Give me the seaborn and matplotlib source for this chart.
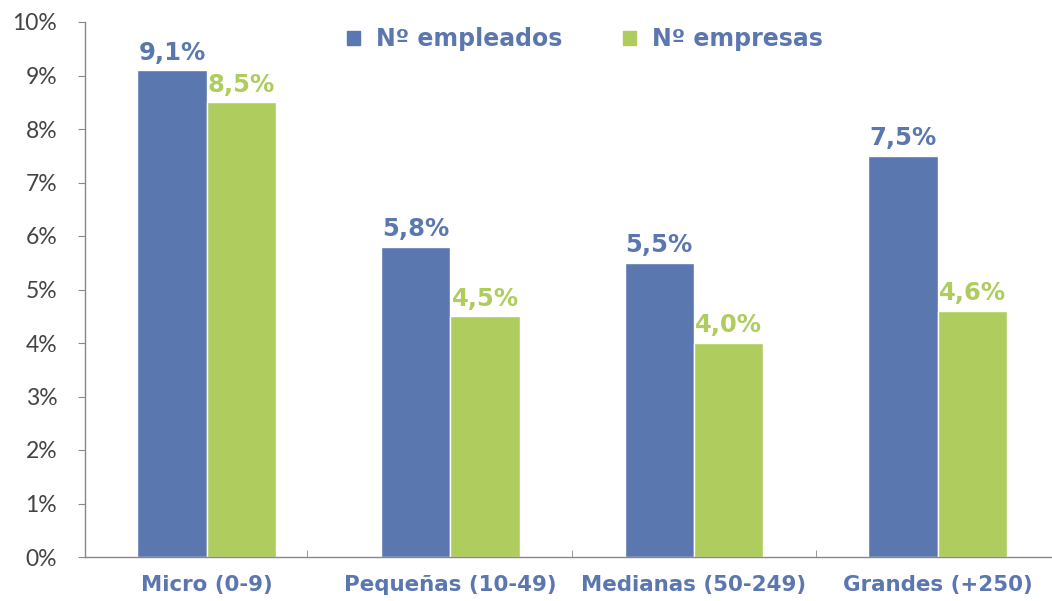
import numpy as np
import pandas as pd
import matplotlib
matplotlib.use("Agg")
import matplotlib.pyplot as plt
import seaborn as sns
from matplotlib.patches import Patch

# datos
categorias = ["Micro (0-9)", "Pequeñas (10-49)", "Medianas (50-249)", "Grandes (+250)"]
series = ["Nº empleados", "Nº empresas"]
empleados = [9.1, 5.8, 5.5, 7.5]
empresas = [8.5, 4.5, 4.0, 4.6]
yticks = [0, 1, 2, 3, 4, 5, 6, 7, 8, 9, 10]

AZUL = "#5B77AF"
VERDE = "#AFCD5F"
BOLD = ["DejaVu Sans"]

df = pd.DataFrame({
    "categoria": categorias * 2,
    "serie": [series[0]] * 4 + [series[1]] * 4,
    "valor": empleados + empresas,
})

sns.set_style("white")
plt.rcParams["font.family"] = ["Lato", "DejaVu Sans"]

fig = plt.figure(figsize=(10.52, 6.01), dpi=100)
ax = fig.add_axes([85 / 1052, 44 / 601, 1 - 85 / 1052, 535 / 601])

sns.barplot(data=df, x="categoria", y="valor", hue="serie", order=categorias,
            hue_order=series, palette=[AZUL, VERDE], width=0.57, saturation=1,
            ax=ax, legend=False)

# etiquetas de valor
for cont, col in zip(ax.containers, [AZUL, VERDE]):
    labels = [f"{v:.1f}%".replace(".", ",") for v in cont.datavalues]
    ax.bar_label(cont, labels=labels, padding=4, color=col,
                 fontsize=17.5, fontweight="bold", family=BOLD)

ax.set_ylim(0, 10)
ax.set_xlim(-0.5, 3.47)
ax.set_yticks(yticks)
ax.set_yticklabels([f"{t}%" for t in yticks], fontsize=16.5, color="#444444")
ax.set_xticks(range(len(categorias)))
ax.set_xticklabels(categorias, fontsize=15.4, fontweight="bold", color=AZUL, family=BOLD)
ax.tick_params(axis="x", length=0, pad=13)
ax.tick_params(axis="y", length=5, color="#888888", pad=15, direction="out", left=True)
ax.set_xticks([0.41, 1.5, 2.5], minor=True)
ax.tick_params(axis="x", which="minor", length=5, direction="in", color="#888888", bottom=True)
ax.set_xlabel("")
ax.set_ylabel("")

for s in ["top", "right"]:
    ax.spines[s].set_visible(False)
for s in ["left", "bottom"]:
    ax.spines[s].set_color("#888888")
    ax.spines[s].set_linewidth(1)

handles = [Patch(color=AZUL), Patch(color=VERDE)]
leg = ax.legend(handles, series, loc="upper center", bbox_to_anchor=(0.517, 1.03),
                ncol=2, frameon=False, handlelength=0.55, handleheight=0.55,
                columnspacing=2.6, handletextpad=0.68,
                prop={"size": 17, "weight": "bold", "family": BOLD})
for t in leg.get_texts():
    t.set_color(AZUL)

fig.savefig("out.png", dpi=100)
